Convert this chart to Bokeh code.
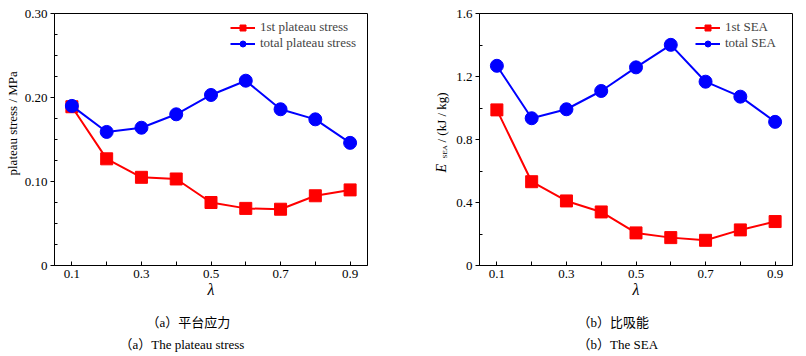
import math
from bokeh.plotting import figure
from bokeh.models import (Legend, LegendItem, FixedTicker, Range1d,
                          NumeralTickFormatter, Title, Label)
from bokeh.layouts import row
from bokeh.embed import file_html
from bokeh.resources import INLINE

# ---- data ----
lam = [0.1, 0.2, 0.3, 0.4, 0.5, 0.6, 0.7, 0.8, 0.9]
plateau_1st = [0.189, 0.127, 0.105, 0.103, 0.075, 0.068, 0.067, 0.083, 0.090]
plateau_total = [0.190, 0.159, 0.164, 0.180, 0.203, 0.220, 0.186, 0.174, 0.146]
sea_1st = [0.988, 0.532, 0.410, 0.340, 0.207, 0.177, 0.160, 0.226, 0.279]
sea_total = [1.268, 0.935, 0.992, 1.108, 1.258, 1.401, 1.167, 1.072, 0.912]

x_major = [0.1, 0.3, 0.5, 0.7, 0.9]
x_minor = [0.2, 0.4, 0.6, 0.8]
ya_major = [0, 0.10, 0.20, 0.30]
ya_minor = [0.025, 0.05, 0.075, 0.125, 0.15, 0.175, 0.225, 0.25, 0.275]
yb_major = [0, 0.4, 0.8, 1.2, 1.6]
yb_minor = [0.2, 0.6, 1.0, 1.4]

RED = "#ff0000"
BLUE = "#0000ff"
SERIF = "Liberation Serif"
CJK = "'Liberation Serif', 'Noto Sans CJK SC'"
H = 354


def make_panel(y1, y2, yrange, ymaj, ymin, yfmt, names, border_l, border_r,
               legend_x, left_titles, captions):
    p = figure(frame_width=313, frame_height=252,
               min_border_left=border_l, min_border_right=border_r,
               min_border_top=13, min_border_bottom=H - 13 - 252,
               x_range=Range1d(0.05, 0.95), y_range=Range1d(*yrange),
               output_backend="svg", toolbar_location=None)
    p.grid.visible = False
    p.outline_line_color = "black"
    p.outline_line_alpha = 1
    p.outline_line_width = 1
    p.background_fill_color = "white"

    for ax in (p.xaxis[0], p.yaxis[0]):
        ax.axis_line_color = "black"
        ax.major_tick_line_color = "black"
        ax.minor_tick_line_color = "black"
        ax.major_label_text_font = SERIF
        ax.major_label_text_font_size = "13px"
        ax.major_label_text_color = "black"

    xa = p.xaxis[0]
    xa.ticker = FixedTicker(ticks=x_major, minor_ticks=x_minor)
    xa.formatter = NumeralTickFormatter(format="0.0")
    xa.major_tick_in = 4
    xa.major_tick_out = 0
    xa.minor_tick_in = 4
    xa.minor_tick_out = 0
    xa.major_label_standoff = 4
    xa.axis_label = "λ"
    xa.axis_label_text_font = SERIF
    xa.axis_label_text_font_style = "italic"
    xa.axis_label_text_font_size = "16px"
    xa.axis_label_text_color = "black"
    xa.axis_label_standoff = 0

    ya = p.yaxis[0]
    ya.ticker = FixedTicker(ticks=ymaj, minor_ticks=ymin)
    ya.formatter = NumeralTickFormatter(format=yfmt)
    ya.major_label_overrides = {0: "0"}
    ya.major_tick_in = 0
    ya.major_tick_out = 4
    ya.minor_tick_in = 3
    ya.minor_tick_out = 0
    ya.major_label_standoff = 3

    l1 = p.line(lam, y1, line_color=RED, line_width=2)
    m1 = p.scatter(lam, y1, marker="square", size=12, fill_color=RED,
                   line_color=RED)
    l2 = p.line(lam, y2, line_color=BLUE, line_width=2)
    m2 = p.scatter(lam, y2, marker="circle", size=13, fill_color=BLUE,
                   line_color=BLUE)

    legend = Legend(items=[LegendItem(label=names[0], renderers=[l1, m1]),
                           LegendItem(label=names[1], renderers=[l2, m2])],
                    location=(legend_x, 214), border_line_color=None,
                    background_fill_alpha=0, padding=0, margin=0, spacing=0,
                    glyph_width=25, glyph_height=15, label_height=15,
                    label_standoff=5, label_text_font=SERIF,
                    label_text_font_size="13px")
    p.add_layout(legend, "center")

    for (txt, size, style, offset, standoff) in left_titles:
        p.add_layout(Title(text=txt, align="left", vertical_align="middle",
                           offset=offset, standoff=standoff,
                           text_font=SERIF, text_font_size=size,
                           text_font_style=style, text_color="black"),
                     "left")

    for (txt, offset, standoff) in captions:
        p.add_layout(Title(text=txt, align="left", vertical_align="middle",
                           offset=offset, standoff=standoff,
                           text_font=CJK, text_font_size="13px",
                           text_font_style="normal", text_color="black"),
                     "below")
    return p


pa = make_panel(plateau_1st, plateau_total, (0, 0.30), ya_major, ya_minor,
                "0.00", ["1st plateau stress", "total plateau stress"],
                54, 53, 176,
                [("plateau stress / MPa", "13px", "normal", 90, 1)],
                [("（a）平台应力", 92, 27),
                 ("（a）The plateau stress", 65, -18)])

# narrow strip that carries the y-axis title (with subscript) of panel (b)
mid = figure(width=31, height=H, x_range=Range1d(0, 1),
             y_range=Range1d(0, 1), x_axis_location=None,
             y_axis_location=None, min_border=0, output_backend="svg",
             toolbar_location=None)
mid.outline_line_color = None
mid.grid.visible = False
for (x, y, txt, size, style) in [(20.8, 93, "E", "14px", "italic"),
                                 (24.3, 107, "SEA", "7px", "normal"),
                                 (21.1, 123, "/ (kJ / kg)", "13px", "normal")]:
    mid.add_layout(Label(x=x, y=y, x_units="screen", y_units="screen",
                         text=txt, angle=math.pi / 2, text_align="left",
                         text_baseline="middle", text_font=SERIF,
                         text_font_size=size, text_font_style=style,
                         text_color="black"))

pb = make_panel(sea_1st, sea_total, (0, 1.6), yb_major, yb_minor,
                "0.0", ["1st SEA", "total SEA"],
                28, 6, 216, [],
                [("（b）比吸能", 98, 27),
                 ("（b）The SEA", 98, -18)])

layout = row(pa, mid, pb, spacing=0)
open("out.html", "w").write(file_html(layout, INLINE))
